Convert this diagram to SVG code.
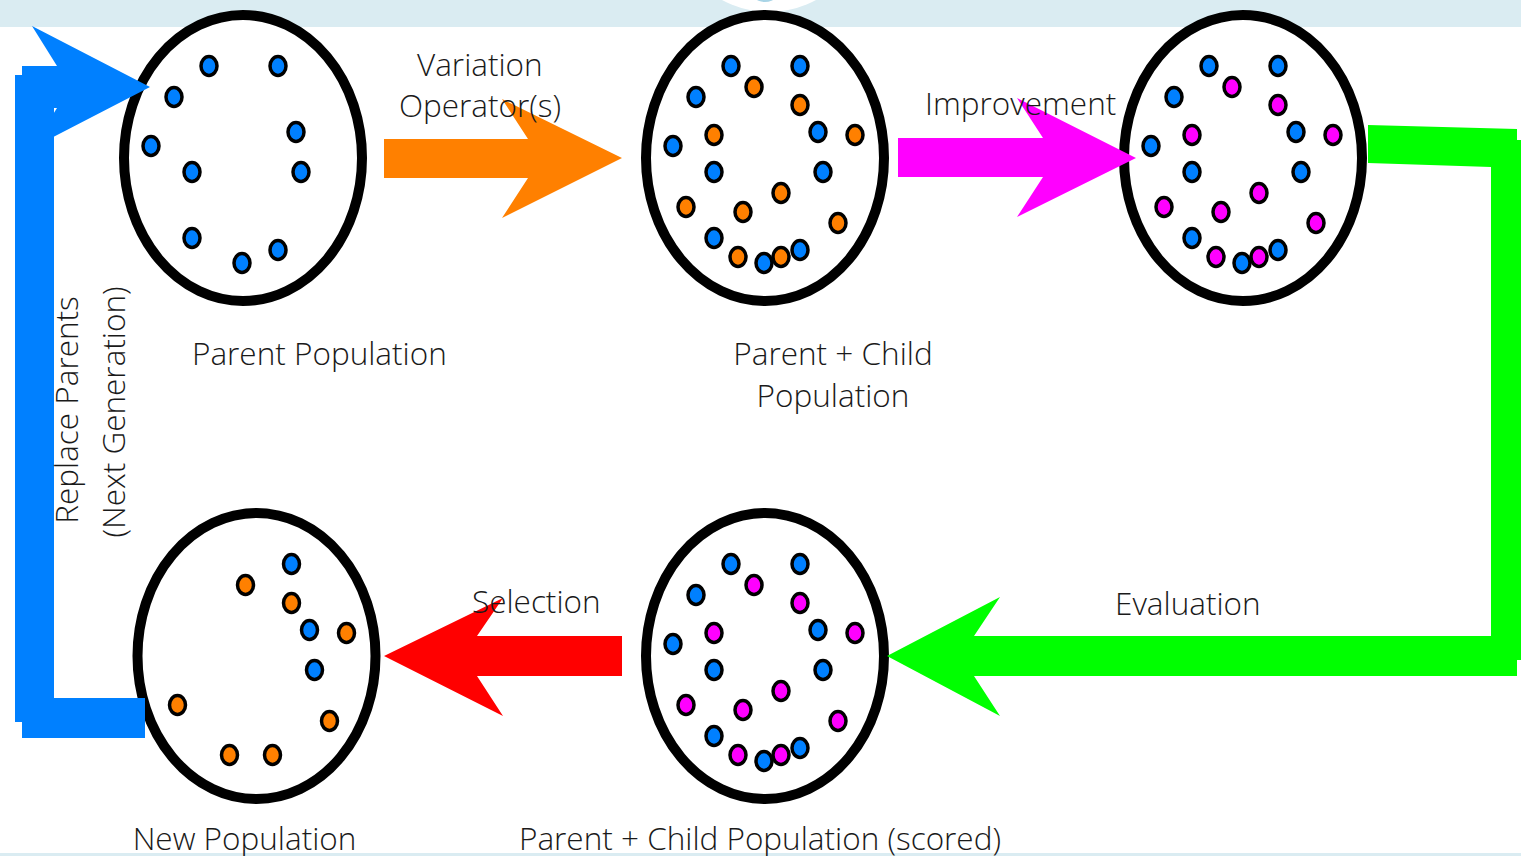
<svg xmlns="http://www.w3.org/2000/svg" xmlns:xlink="http://www.w3.org/1999/xlink" width="1521" height="856" viewBox="0 0 1521 856">
<style>
.pop{fill:#fff;stroke:#000;stroke-width:10}
.d{stroke:#000;stroke-width:3.5}
.b{fill:#0080ff}
.o{fill:#ff8000}
.m{fill:#ff00ff}
.t{font-family:"Open Sans","Liberation Sans",sans-serif;font-size:31.5px;font-weight:300;fill:#1a1a1a}
.c{text-anchor:middle}
</style>
<defs>
<g id="par">
<ellipse class="d b" cx="-34" cy="-92" rx="8" ry="9.5"/>
<ellipse class="d b" cx="35" cy="-92" rx="8" ry="9.5"/>
<ellipse class="d b" cx="-69" cy="-61" rx="8" ry="9.5"/>
<ellipse class="d b" cx="53" cy="-26" rx="8" ry="9.5"/>
<ellipse class="d b" cx="-92" cy="-12" rx="8" ry="9.5"/>
<ellipse class="d b" cx="-51" cy="14" rx="8" ry="9.5"/>
<ellipse class="d b" cx="58" cy="14" rx="8" ry="9.5"/>
<ellipse class="d b" cx="-51" cy="80" rx="8" ry="9.5"/>
<ellipse class="d b" cx="-1" cy="105" rx="8" ry="9.5"/>
</g>
<g id="chi">
<ellipse class="d" cx="-11" cy="-71" rx="8" ry="9.5"/>
<ellipse class="d" cx="35" cy="-53" rx="8" ry="9.5"/>
<ellipse class="d" cx="-51" cy="-23" rx="8" ry="9.5"/>
<ellipse class="d" cx="90" cy="-23" rx="8" ry="9.5"/>
<ellipse class="d" cx="16" cy="35" rx="8" ry="9.5"/>
<ellipse class="d" cx="-79" cy="49" rx="8" ry="9.5"/>
<ellipse class="d" cx="-22" cy="54" rx="8" ry="9.5"/>
<ellipse class="d" cx="73" cy="65" rx="8" ry="9.5"/>
<ellipse class="d" cx="-27" cy="99" rx="8" ry="9.5"/>
<ellipse class="d" cx="16" cy="99" rx="8" ry="9.5"/>
</g>
<g id="last"><ellipse class="d b" cx="35" cy="92" rx="8" ry="9.5"/></g>
</defs>
<rect width="1521" height="856" fill="#fff"/>
<rect x="0" y="0" width="1521" height="27" fill="#daecf2"/>
<circle cx="769" cy="-86" r="98" fill="#fff"/>
<ellipse cx="765" cy="-2" rx="9" ry="4" fill="#a8d4e6"/>
<rect x="0" y="853" width="1521" height="3" fill="#daecf2"/>

<g id="parent-population">
<ellipse class="pop" cx="243" cy="158" rx="119" ry="143"/>
<use xlink:href="#par" transform="translate(243,158)"/>
<use xlink:href="#last" transform="translate(243,158)"/>
<text class="t" x="192" y="365">Parent Population</text>
</g>

<g id="parent-child-population">
<ellipse class="pop" cx="765" cy="158" rx="119" ry="143"/>
<use xlink:href="#par" transform="translate(765,158)"/>
<use xlink:href="#chi" transform="translate(765,158)" fill="#ff8000"/>
<use xlink:href="#last" transform="translate(765,158)"/>
<text class="t c" x="833" y="365">Parent + Child</text>
<text class="t c" x="833" y="407">Population</text>
</g>

<g id="improved-population">
<ellipse class="pop" cx="1243" cy="158" rx="119" ry="143"/>
<use xlink:href="#par" transform="translate(1243,158)"/>
<use xlink:href="#chi" transform="translate(1243,158)" fill="#ff00ff"/>
<use xlink:href="#last" transform="translate(1243,158)"/>
</g>

<g id="scored-population">
<ellipse class="pop" cx="765" cy="656" rx="119" ry="143"/>
<use xlink:href="#par" transform="translate(765,656)"/>
<use xlink:href="#chi" transform="translate(765,656)" fill="#ff00ff"/>
<use xlink:href="#last" transform="translate(765,656)"/>
<text class="t c" x="760" y="850">Parent + Child Population (scored)</text>
</g>

<g id="new-population">
<ellipse class="pop" cx="256.5" cy="656" rx="119" ry="143"/>
<g transform="translate(256.5,656)">
<ellipse class="d b" cx="35" cy="-92" rx="8" ry="9.5"/>
<ellipse class="d o" cx="-11" cy="-71" rx="8" ry="9.5"/>
<ellipse class="d o" cx="35" cy="-53" rx="8" ry="9.5"/>
<ellipse class="d b" cx="53" cy="-26" rx="8" ry="9.5"/>
<ellipse class="d o" cx="90" cy="-23" rx="8" ry="9.5"/>
<ellipse class="d b" cx="58" cy="14" rx="8" ry="9.5"/>
<ellipse class="d o" cx="-79" cy="49" rx="8" ry="9.5"/>
<ellipse class="d o" cx="73" cy="65" rx="8" ry="9.5"/>
<ellipse class="d o" cx="-27" cy="99" rx="8" ry="9.5"/>
<ellipse class="d o" cx="16" cy="99" rx="8" ry="9.5"/>
</g>
<text class="t c" x="244.5" y="850">New Population</text>
</g>

<g id="connectors">
<polygon fill="#ff8000" points="384,139 528,139 502,99 622,158 502,218 528,178 384,178"/>
<polygon fill="#ff00ff" points="898,138 1043,138 1017,98 1136,158 1017,217 1043,177 898,177"/>
<rect x="1491" y="140" width="30" height="520" fill="#00ff00"/>
<polygon fill="#00ff00" points="1368,125 1517,129 1517,676 974,676 1000,716 887,656 1000,597 974,636 1491,636 1491,167 1368,163"/>
<polygon fill="#ff0000" points="622,636 477,636 503,598 384,656 503,716 477,676 622,676"/>
<rect x="15" y="75" width="39" height="647" fill="#0080ff"/>
<polygon fill="#0080ff" points="22,66 57,66 32,26 150,87 32,148 57,108 54,108 54,698 145,698 145,738 22,738"/>
<text class="t c" transform="translate(78,410) rotate(-90)">Replace Parents</text>
<text class="t c" transform="translate(125,412) rotate(-90)">(Next Generation)</text>
<text class="t" x="417" y="76">Variation</text>
<text class="t c" x="480" y="117">Operator(s)</text>
<text class="t" x="925" y="115">Improvement</text>
<text class="t" x="472" y="613">Selection</text>
<text class="t" x="1115" y="615">Evaluation</text>
</g>
</svg>
